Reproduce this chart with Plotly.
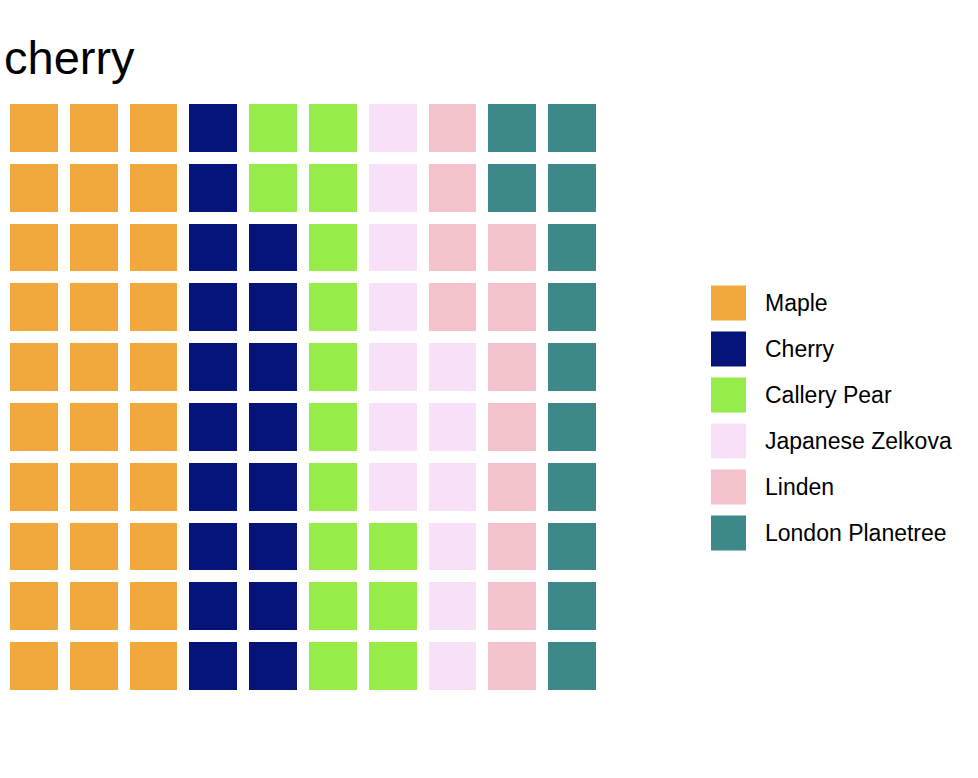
import plotly.graph_objects as go

categories = ["Maple", "Cherry", "Callery Pear", "Japanese Zelkova", "Linden", "London Planetree"]
counts = [30, 18, 15, 13, 12, 12]
colors = ["#F1A93E", "#041478", "#96EC48", "#F8E1F8", "#F4C2CB", "#3D8989"]
title_text = "cherry"
n_rows = 10
n_cols = 10

W, H = 978, 778

# fill order: column by column, bottom to top
cells = []
for ci, cnt in enumerate(counts):
    cells += [ci] * cnt

fig = go.Figure()
for ci, (cat, col) in enumerate(zip(categories, colors)):
    z = [[None] * n_cols for _ in range(n_rows)]
    for k, c in enumerate(cells):
        if c == ci:
            z[k % n_rows][k // n_rows] = 1
    fig.add_trace(go.Heatmap(
        z=z, x=list(range(n_cols)), y=list(range(n_rows)),
        colorscale=[[0, col], [1, col]], showscale=False,
        xgap=12, ygap=12, hoverinfo="skip", name=cat, xaxis="x", yaxis="y"))

# legend built on a second axis
idx = list(range(len(categories)))
fig.add_trace(go.Scatter(
    x=[17.5] * len(categories), y=idx, mode="markers",
    marker=dict(symbol="square", size=35, color=colors, line=dict(width=0)),
    xaxis="x2", yaxis="y2", hoverinfo="skip", showlegend=False))
fig.add_trace(go.Scatter(
    x=[54] * len(categories), y=[i + 0.04 for i in idx], mode="text", text=categories,
    textposition="middle right",
    textfont=dict(size=23, color="#000000", family="Liberation Sans, Arial, sans-serif"),
    xaxis="x2", yaxis="y2", hoverinfo="skip", showlegend=False))

fig.update_layout(
    width=W, height=H,
    margin=dict(l=0, r=0, t=0, b=0),
    paper_bgcolor="white", plot_bgcolor="white",
    showlegend=False,
    title=dict(text=title_text, x=4 / W, xanchor="left", xref="paper",
               y=1 - 41 / H, yanchor="top", yref="container",
               font=dict(size=47, color="#000000", family="Liberation Sans, Arial, sans-serif")),
    xaxis=dict(domain=[4 / W, 602 / W], range=[-0.5, n_cols - 0.5], visible=False, fixedrange=True),
    yaxis=dict(domain=[1 - 696 / H, 1 - 98 / H], range=[-0.5, n_rows - 0.5], visible=False, fixedrange=True),
    xaxis2=dict(domain=[711 / W, 1.0], range=[0, 267], visible=False, fixedrange=True),
    yaxis2=dict(domain=[1 - 556 / H, 1 - 280 / H], range=[len(categories) - 0.5, -0.5],
                visible=False, fixedrange=True),
)

fig.write_html("out.html")
